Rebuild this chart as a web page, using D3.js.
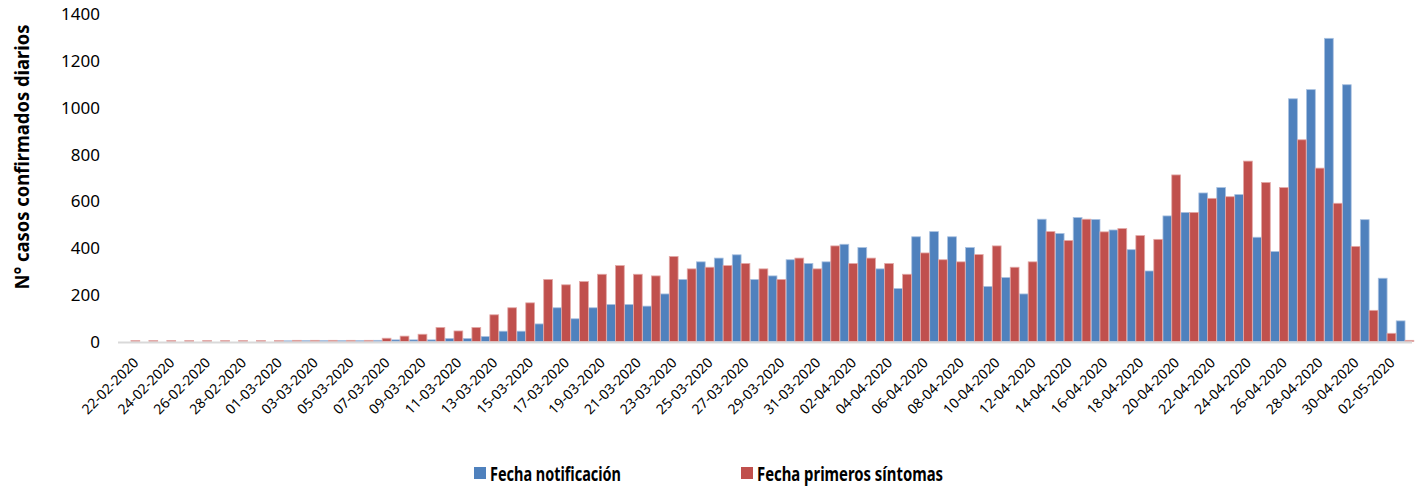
<!DOCTYPE html>
<html>
<head>
<meta charset="utf-8">
<script src="https://cdn.jsdelivr.net/npm/d3@7"></script>
<style>
  html, body { margin: 0; padding: 0; background: #fff; }
  #chart { width: 1418px; height: 486px; }
  text { font-family: "Noto Sans", "Open Sans", sans-serif; fill: #000; }
</style>
</head>
<body>
<div id="chart"></div>
<script>
// categories: one per day, 22-02-2020 .. 03-05-2020
var fechas = [
  "22-02-2020","23-02-2020","24-02-2020","25-02-2020","26-02-2020","27-02-2020","28-02-2020","29-02-2020",
  "01-03-2020","02-03-2020","03-03-2020","04-03-2020","05-03-2020","06-03-2020","07-03-2020","08-03-2020",
  "09-03-2020","10-03-2020","11-03-2020","12-03-2020","13-03-2020","14-03-2020","15-03-2020","16-03-2020",
  "17-03-2020","18-03-2020","19-03-2020","20-03-2020","21-03-2020","22-03-2020","23-03-2020","24-03-2020",
  "25-03-2020","26-03-2020","27-03-2020","28-03-2020","29-03-2020","30-03-2020","31-03-2020","01-04-2020",
  "02-04-2020","03-04-2020","04-04-2020","05-04-2020","06-04-2020","07-04-2020","08-04-2020","09-04-2020",
  "10-04-2020","11-04-2020","12-04-2020","13-04-2020","14-04-2020","15-04-2020","16-04-2020","17-04-2020",
  "18-04-2020","19-04-2020","20-04-2020","21-04-2020","22-04-2020","23-04-2020","24-04-2020","25-04-2020",
  "26-04-2020","27-04-2020","28-04-2020","29-04-2020","30-04-2020","01-05-2020","02-05-2020","03-05-2020"
];

// Fecha notificación
var notificacion = [
  0,0,0,0,0,0,0,0,
  0,3,4,4,4,4,5,7,
  7,7,13,13,21,44,44,75,
  144,97,144,158,158,151,203,265,
  340,356,370,265,280,349,333,340,
  415,401,310,226,447,469,447,401,
  235,273,203,522,461,529,521,476,
  392,301,536,551,634,657,627,445,
  384,1036,1075,1294,1096,520,270,88
];

// Fecha primeros síntomas
var sintomas = [
  4,4,4,4,4,4,4,4,
  4,5,5,5,5,5,14,23,
  31,60,45,60,114,144,165,265,
  242,256,287,324,287,280,363,310,
  317,324,333,310,265,356,310,408,
  333,356,333,287,378,349,340,371,
  408,317,340,469,431,522,468,482,
  452,436,711,551,611,618,770,679,
  657,861,740,590,406,133,35,5
];

var yTicks = [0, 200, 400, 600, 800, 1000, 1200, 1400];

var series = [
  {key: "notificacion", label: "Fecha notificación", values: notificacion, fill: "#4F81BD", stroke: "#a9c1e0"},
  {key: "sintomas", label: "Fecha primeros síntomas", values: sintomas, fill: "#C0504D", stroke: "#e3a9a7"}
];

var width = 1418, height = 486;

var svg = d3.select("#chart").append("svg")
    .attr("width", width)
    .attr("height", height);

var x = d3.scaleBand()
    .domain(fechas)
    .range([122, 1414])
    .paddingInner(0)
    .paddingOuter(0);

var x1 = d3.scaleBand()
    .domain(series.map(function(s) { return s.key; }))
    .range([0, x.bandwidth()])
    .paddingOuter(0.02);

var y = d3.scaleLinear()
    .domain([0, 1400])
    .range([341.5, 13.5]);

// bars
series.forEach(function(s) {
    svg.append("g")
        .attr("class", "serie-" + s.key)
        .selectAll("rect")
        .data(s.values)
        .enter().append("rect")
        .attr("x", function(d, i) { return x(fechas[i]) + x1(s.key); })
        .attr("y", function(d) { return y(d); })
        .attr("width", x1.bandwidth())
        .attr("height", function(d) { return y(0) - y(d); })
        .attr("fill", s.fill)
        .attr("stroke", s.stroke)
        .attr("stroke-width", 0.8);
});

// x axis line
svg.append("line")
    .attr("x1", 118).attr("x2", 1412)
    .attr("y1", y(0) + 1).attr("y2", y(0) + 1)
    .attr("stroke", "#d9d9d9")
    .attr("stroke-width", 2);

// y tick labels
svg.append("g")
    .selectAll("text")
    .data(yTicks)
    .enter().append("text")
    .attr("x", 100)
    .attr("y", function(d) { return y(d); })
    .attr("text-anchor", "end")
    .attr("dominant-baseline", "central")
    .style("font-size", "17px")
    .text(function(d) { return d; });

// x tick labels, every second day
svg.append("g")
    .selectAll("text")
    .data(fechas.filter(function(d, i) { return i % 2 === 0; }))
    .enter().append("text")
    .attr("text-anchor", "end")
    .attr("transform", function(d) {
        return "translate(" + (x(d) + x.bandwidth() / 2 + 5) + "," + 360 + ") rotate(-45)";
    })
    .attr("dy", "0.35em")
    .style("font-size", "14px")
    .text(function(d) { return d; });

// y axis title
svg.append("text")
    .attr("transform", "translate(22," + 157 + ") rotate(-90)")
    .attr("text-anchor", "middle")
    .attr("dominant-baseline", "central")
    .attr("textLength", 265)
    .attr("lengthAdjust", "spacingAndGlyphs")
    .style("font-size", "19px")
    .style("font-weight", "bold")
    .text("N° casos confirmados diarios");

// legend
var legendPos = [{x: 474, w: 131}, {x: 741, w: 186}];
var legend = svg.append("g").attr("class", "legend");
series.forEach(function(s, i) {
    var g = legend.append("g")
        .attr("transform", "translate(" + legendPos[i].x + ",473)");
    g.append("rect")
        .attr("x", 0).attr("y", -6)
        .attr("width", 12).attr("height", 12)
        .attr("fill", s.fill);
    g.append("text")
        .attr("x", 16)
        .attr("y", 0)
        .attr("dominant-baseline", "central")
        .attr("textLength", legendPos[i].w)
        .attr("lengthAdjust", "spacingAndGlyphs")
        .style("font-size", "20px")
        .style("font-weight", "bold")
        .text(s.label);
});
</script>
</body>
</html>
